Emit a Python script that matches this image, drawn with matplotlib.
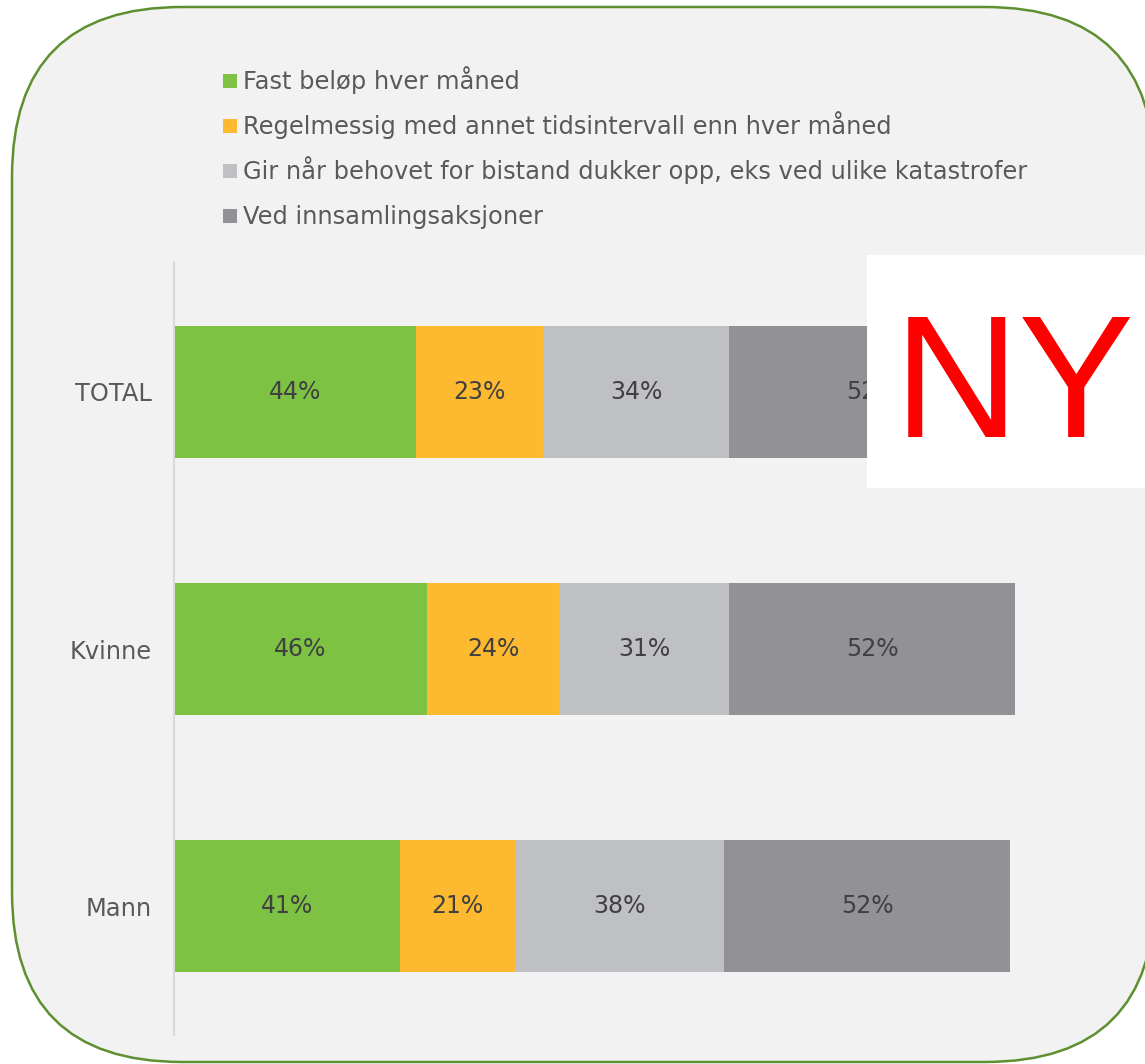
import matplotlib.pyplot as plt
from matplotlib.patches import FancyBboxPatch, Rectangle
from matplotlib.transforms import IdentityTransform

categories = ["TOTAL", "Kvinne", "Mann"]
series_names = [
    "Fast beløp hver måned",
    "Regelmessig med annet tidsintervall enn hver måned",
    "Gir når behovet for bistand dukker opp, eks ved ulike katastrofer",
    "Ved innsamlingsaksjoner",
]
fast = [44, 46, 41]
regelmessig = [23, 24, 21]
behov = [34, 31, 38]
aksjoner = [52, 52, 52]
series_values = [fast, regelmessig, behov, aksjoner]
colors = ["#7dc243", "#fdb92f", "#bfc0c3", "#929196"]

W, H = 1145, 1064
BG = "#f2f2f2"
TEXT = "#595959"

fig = plt.figure(figsize=(W / 100, H / 100), dpi=100)
fig.patch.set_facecolor("white")

# rounded panel in pixel coordinates
panel = FancyBboxPatch((12, 2), 1143, 1055, boxstyle="round,pad=0,rounding_size=170",
                       transform=IdentityTransform(), facecolor=BG,
                       edgecolor="#5e8f31", linewidth=1.8, zorder=0)
fig.add_artist(panel)

ax = fig.add_axes([174 / W, 1 - 1035 / H, 926 / W, 772 / H])
ax.set_facecolor("none")

y = list(range(len(categories)))
left = [0] * len(categories)
for name, vals, col in zip(series_names, series_values, colors):
    bars = ax.barh(y, vals, left=left, height=0.513, color=col, label=name, zorder=2)
    ax.bar_label(bars, labels=[f"{v}%" for v in vals], label_type="center",
                 fontsize=17, color="#404040")
    left = [a + b for a, b in zip(left, vals)]

ax.set_xlim(0, 926 / 5.5)
ax.set_ylim(2.5, -0.5)
ax.set_yticks(y)
ax.set_yticklabels(categories, fontsize=17.4, color=TEXT)
ax.tick_params(axis="y", length=0, pad=16)
ax.set_xticks([])
for side in ["top", "right", "bottom"]:
    ax.spines[side].set_visible(False)
ax.spines["left"].set_color("#d9d9d9")
ax.spines["left"].set_linewidth(1.5)

# legend drawn by hand
row_centers = [81, 126, 171, 216]
for name, col, yc in zip(series_names, colors, row_centers):
    fig.add_artist(Rectangle((223, H - yc - 7), 14, 14, transform=IdentityTransform(),
                             facecolor=col, edgecolor="none"))
    fig.text(243 / W, 1 - (yc + 8) / H, name, fontsize=17.4, color=TEXT,
             ha="left", va="baseline")

# "NY" stamp
fig.add_artist(Rectangle((867, H - 488), 290, 233, transform=IdentityTransform(),
                         facecolor="white", edgecolor="none", zorder=5))
fig.text(1014 / W, 1 - 437 / H, "NY", fontsize=125, color="#ff0000",
         family="Liberation Sans", ha="center", va="baseline", zorder=6)

fig.savefig("out.png", dpi=100)
